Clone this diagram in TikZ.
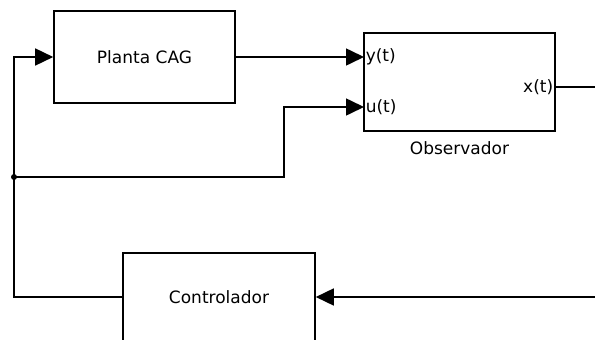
\documentclass[tikz,border=0pt]{standalone}
\usepackage{fontspec}
\setmainfont{DejaVu Sans}
\usetikzlibrary{arrows.meta}

\begin{document}
\begin{tikzpicture}[x=1pt,y=-1pt,line width=1.6pt,
		>={Triangle[length=18pt,width=17pt]},
		block/.style={draw,rectangle,inner sep=0pt,font=\fontsize{17}{20}\selectfont},
		port/.style={inner sep=1pt,font=\fontsize{17}{20}\selectfont}]
			\fill[white] (0,0) rectangle (595,340);
			\useasboundingbox (0,0) rectangle (595,340);
			\clip (0,0) rectangle (595,340);
			\node[block, minimum width=181pt, minimum height=92pt] (Planta) at (144.5,57) {Planta CAG};
			\node[block, minimum width=191pt, minimum height=98pt] (Obs) at (459.5,82) {};
			\node[port] (ObsLab) at (459.5,148) {Observador};
			\node[block, minimum width=192pt, minimum height=88pt] (Ctrl) at (219,297) {Controlador};
			\coordinate (yin) at (364,57);
			\coordinate (uin) at (364,107);
			\coordinate (xout) at (555,87);
			\node[port, anchor=west] (yLab) at (yin) {y(t)};
			\node[port, anchor=west] (uLab) at (uin) {u(t)};
			\node[port, anchor=east] (xLab) at (xout) {x(t)};
			\coordinate (junc) at (14,177);
			\coordinate (bend) at (284,177);
			\coordinate (edgeX) at (595,87);
			\coordinate (edgeC) at (595,297);
			\draw [->] (Planta.east) -- (yin);
			\draw [->] (junc) -- (bend) |- (uin);
			\draw (xout) -- (edgeX);
			\draw [->] (edgeC) -- (Ctrl.east);
			\draw [->] (Ctrl.west) -| (junc) |- (Planta.west);
			\fill (junc) circle (3pt);
		\end{tikzpicture}
\end{document}
